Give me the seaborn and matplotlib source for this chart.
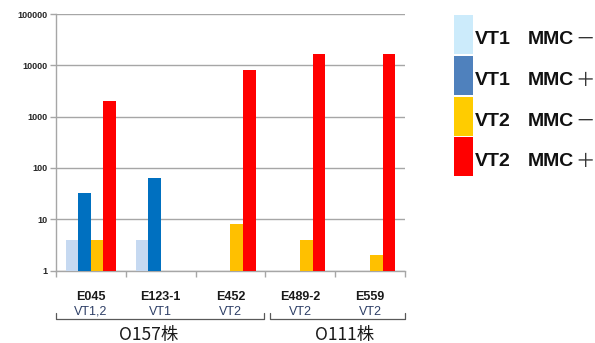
import numpy as np
import pandas as pd
import matplotlib
matplotlib.use("Agg")
import matplotlib.pyplot as plt
import matplotlib.patches as mpatches
import seaborn as sns

# Strains, toxin types and groups
strains = ["E045", "E123-1", "E452", "E489-2", "E559"]
vt_types = ["VT1,2", "VT1", "VT2", "VT2", "VT2"]
groups = ["O157株", "O111株"]

# Titres per condition (NaN = not detected)
series = ["VT1 MMC－", "VT1 MMC＋", "VT2 MMC－", "VT2 MMC＋"]
vt1_minus = [4, 4, np.nan, np.nan, np.nan]
vt1_plus = [32, 64, np.nan, np.nan, np.nan]
vt2_minus = [4, np.nan, 8, 4, 2]
vt2_plus = [2048, np.nan, 8192, 16384, 16384]

bar_colors = ["#C6D9F1", "#0070C0", "#FFC000", "#FF0000"]
legend_colors = ["#CCEBFB", "#4F81BD", "#FFCC00", "#FF0000"]

rows = []
for name, vals in zip(series, [vt1_minus, vt1_plus, vt2_minus, vt2_plus]):
    for s, v in zip(strains, vals):
        rows.append({"strain": s, "series": name, "titre": v})
df = pd.DataFrame(rows)

sns.set_style("white")
plt.rcParams["font.family"] = ["Liberation Sans", "Noto Sans CJK JP"]

W, H = 595, 343
fig = plt.figure(figsize=(W / 100, H / 100), dpi=100)
ax = fig.add_axes([56 / W, 1 - 270.5 / H, 349 / W, 256.5 / H])
ax.set_yscale("log")

sns.barplot(data=df.dropna(), x="strain", y="titre", hue="series",
            order=strains, hue_order=series, palette=bar_colors,
            width=0.72, saturation=1, dodge=True, ax=ax, legend=False,
            edgecolor="none", linewidth=0, zorder=3)

ax.set_xlim(-0.5, len(strains) - 0.5)
ax.set_ylim(1, 1e5)
ax.set_yticks([1, 10, 100, 1000, 10000, 100000])
ax.set_yticklabels(["1", "10", "100", "1000", "10000", "100000"],
                   fontsize=6.5, fontweight="bold", color="#262626")
ax.minorticks_off()
ax.yaxis.grid(True, color="#A6A6A6", linewidth=1.0, zorder=0)
ax.xaxis.grid(False)
ax.set_axisbelow(True)
ax.set_xlabel("")
ax.set_ylabel("")

for side in ["top", "right"]:
    ax.spines[side].set_visible(False)
for side in ["left", "bottom"]:
    ax.spines[side].set_color("#A6A6A6")
    ax.spines[side].set_linewidth(1.0)
ax.tick_params(axis="y", which="major", left=True, length=4, width=1,
               color="#A6A6A6", pad=2)

# Category boundary ticks on the x axis, labels centred between them
ax.set_xticks(np.arange(len(strains)))
ax.set_xticklabels([])
ax.tick_params(axis="x", which="major", length=0)
ax.set_xticks(np.arange(len(strains) + 1) - 0.5, minor=True)
ax.tick_params(axis="x", which="minor", bottom=True, length=4, width=1,
               color="#A6A6A6")

trans = ax.get_xaxis_transform()
for i, (s, vt) in enumerate(zip(strains, vt_types)):
    ax.text(i, -0.105, s, transform=trans, ha="center", va="center",
            fontsize=9, fontweight="bold", color="#1a1a1a")
    ax.text(i, -0.16, vt, transform=trans, ha="center", va="center",
            fontsize=9, color="#2E3F66")

# Group brackets below the strain labels
bracket_spans = [(-0.5, 2.48), (2.56, 4.5)]
group_label_x = [0.82, 3.64]
for (x0, x1), gx, g in zip(bracket_spans, group_label_x, groups):
    ax.plot([x0, x0, x1, x1], [-0.167, -0.19, -0.19, -0.167], transform=trans,
            color="#595959", linewidth=0.9, clip_on=False)
    ax.text(gx, -0.252, g, transform=trans, ha="center",
            va="center", fontsize=12.5, family=["Noto Sans CJK JP"],
            color="#1a1a1a")

# Legend: stacked colour blocks with bold labels
block_top = [14.7, 56.0, 96.7, 137.0]
block_h = 39.0
for top, c, name in zip(block_top, legend_colors, series):
    fig.add_artist(mpatches.Rectangle((454.3 / W, 1 - (top + block_h) / H),
                                      18.4 / W, block_h / H,
                                      transform=fig.transFigure,
                                      facecolor=c, edgecolor="none"))
    vt, rest = name.split(" ")
    word, sign = rest[:-1], rest[-1]
    yc = 1 - (top + block_h / 2 + 5) / H
    fig.text(475 / W, yc, vt, ha="left", va="center", fontsize=14,
             fontweight="bold", color="#111111")
    fig.text(574 / W, yc, word, ha="right", va="center", fontsize=14,
             fontweight="bold", color="#111111")
    fig.text(575 / W, yc, sign, ha="left", va="center", fontsize=14,
             family=["Noto Sans CJK JP"], color="#333333")

fig.savefig("out.png", dpi=100)
